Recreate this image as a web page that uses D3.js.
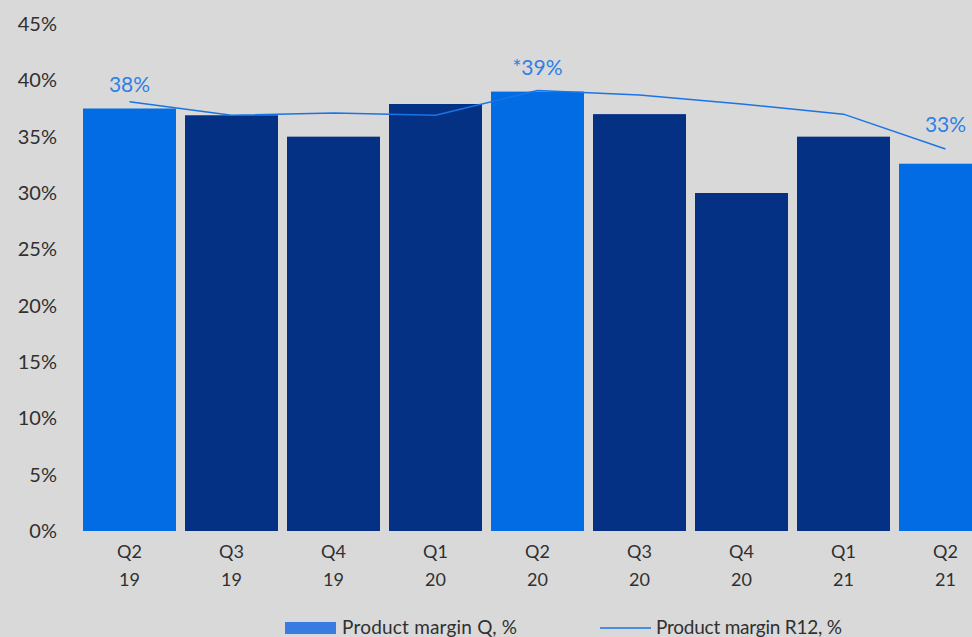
<!DOCTYPE html>
<html><head><meta charset="utf-8">
<script src="https://cdn.jsdelivr.net/npm/d3@7"></script>
<style>body{margin:0;background:#d9d9d9;overflow:hidden}svg{display:block}</style>
</head><body>
<script>
const categories = ["Q2 19","Q3 19","Q4 19","Q1 20","Q2 20","Q3 20","Q4 20","Q1 21","Q2 21"];
const marginQ = [37.5, 36.9, 35.0, 37.9, 39.0, 37.0, 30.0, 35.0, 32.6];
const marginR12 = [38.1, 36.9, 37.1, 36.9, 39.1, 38.7, 37.9, 37.0, 33.9];
const highlight = [true, false, false, false, true, false, false, false, true];
const annotations = [{i:0, text:"38%"}, {i:4, text:"*39%"}, {i:8, text:"33%"}];
const yTicks = [0,5,10,15,20,25,30,35,40,45];
const legendLabels = ["Product margin Q, %", "Product margin R12, %"];

const W = 972, H = 637;
const font = "Lato, sans-serif";
const annOffsets = [-10, -15, -17];
const textColor = "#303030";
const svg = d3.select("body").append("svg").attr("width", W).attr("height", H)
  .style("background", "#d9d9d9");

const x = d3.scaleBand().domain(categories).range([78.5, 996.5]).paddingInner(9/102).paddingOuter(4.5/102);
const y = d3.scaleLinear().domain([0, 45]).range([531, 24]);

// y axis labels
svg.append("g").selectAll("text").data(yTicks).join("text")
  .attr("x", 57).attr("y", d => y(d)).attr("dy", "0.35em")
  .attr("text-anchor", "end").attr("font-family", font).attr("font-size", 20)
  .attr("fill", textColor).text(d => d + "%");

// bars
svg.append("g").selectAll("rect").data(categories).join("rect")
  .attr("x", d => x(d)).attr("width", x.bandwidth())
  .attr("y", (d, i) => y(marginQ[i])).attr("height", (d, i) => y(0) - y(marginQ[i]))
  .attr("fill", (d, i) => highlight[i] ? "#016ce3" : "#053185");

// line
const line = d3.line().x((d, i) => x(categories[i]) + x.bandwidth() / 2).y(d => y(d));
svg.append("path").datum(marginR12).attr("d", line)
  .attr("fill", "none").attr("stroke", "#1a74e6").attr("stroke-width", 1.5);

// annotations
svg.append("g").selectAll("text").data(annotations).join("text")
  .attr("x", d => x(categories[d.i]) + x.bandwidth() / 2)
  .attr("y", (d, k) => y(marginR12[d.i]) + annOffsets[k])
  .attr("text-anchor", "middle").attr("font-family", font).attr("font-size", 21)
  .attr("fill", "#2f7fe6").text(d => d.text);

// x labels
const xl = svg.append("g").selectAll("text").data(categories).join("text")
  .attr("x", d => x(d) + x.bandwidth() / 2).attr("y", 558)
  .attr("text-anchor", "middle").attr("font-family", font).attr("font-size", 18)
  .attr("fill", textColor);
xl.append("tspan").attr("x", d => x(d) + x.bandwidth() / 2).text(d => d.split(" ")[0]);
xl.append("tspan").attr("x", d => x(d) + x.bandwidth() / 2).attr("dy", 28).text(d => d.split(" ")[1]);

// legend
const lg = svg.append("g");
lg.append("rect").attr("x", 285).attr("y", 622).attr("width", 51).attr("height", 12).attr("fill", "#3a7be3");
lg.append("text").attr("x", 342).attr("y", 634).attr("font-family", font).attr("font-size", 19)
  .attr("textLength", 175).attr("fill", textColor).text(legendLabels[0]);
lg.append("line").attr("x1", 600).attr("x2", 651).attr("y1", 628).attr("y2", 628)
  .attr("stroke", "#1a74e6").attr("stroke-width", 1.5);
lg.append("text").attr("x", 656).attr("y", 634).attr("font-family", font).attr("font-size", 19)
  .attr("textLength", 186).attr("fill", textColor).text(legendLabels[1]);
</script>
</body></html>
